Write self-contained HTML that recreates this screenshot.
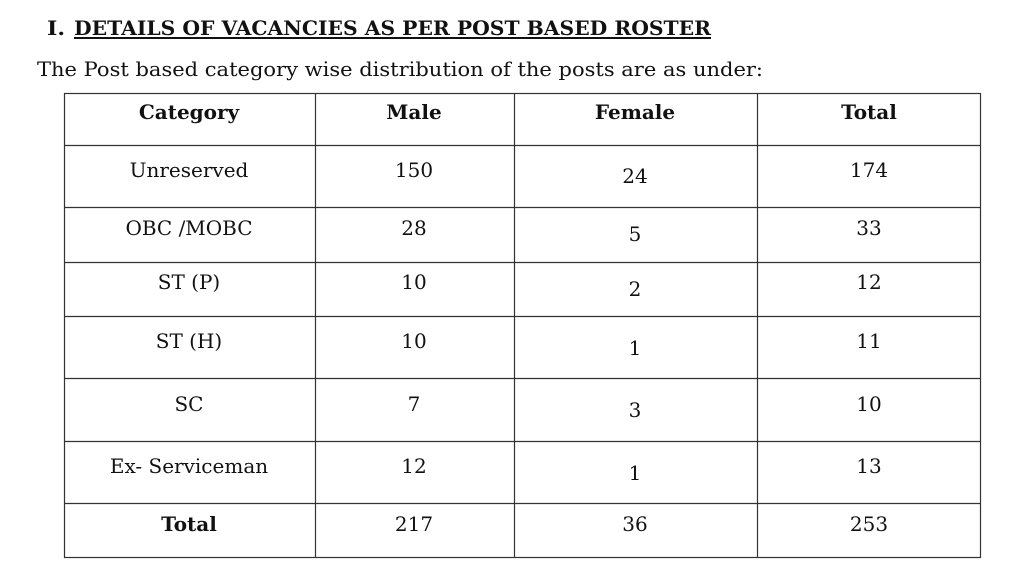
<!DOCTYPE html>
<html><head><style>body{margin:0;background:#fff}svg{display:block}</style></head>
<body>
<svg width="1024" height="587" xmlns="http://www.w3.org/2000/svg" font-family="DejaVu Serif, serif" fill="#111">
<text x="47" y="35" font-size="20" font-weight="bold" textLength="18" lengthAdjust="spacingAndGlyphs">I.</text>
<text x="74" y="35" font-size="20" font-weight="bold" textLength="637" lengthAdjust="spacingAndGlyphs">DETAILS OF VACANCIES AS PER POST BASED ROSTER</text>
<rect x="74" y="37" width="637" height="2" fill="#111"/>
<text x="37" y="76" font-size="20" textLength="726" lengthAdjust="spacingAndGlyphs">The Post based category wise distribution of the posts are as under:</text>
<g stroke="#333" stroke-width="1.2" fill="none">
<rect x="64.5" y="93.5" width="916" height="464"/>
<line x1="315.5" y1="93" x2="315.5" y2="558"/>
<line x1="514.5" y1="93" x2="514.5" y2="558"/>
<line x1="757.5" y1="93" x2="757.5" y2="558"/>
<line x1="64" y1="145.5" x2="981" y2="145.5"/>
<line x1="64" y1="207.5" x2="981" y2="207.5"/>
<line x1="64" y1="262.5" x2="981" y2="262.5"/>
<line x1="64" y1="316.5" x2="981" y2="316.5"/>
<line x1="64" y1="378.5" x2="981" y2="378.5"/>
<line x1="64" y1="441.5" x2="981" y2="441.5"/>
<line x1="64" y1="503.5" x2="981" y2="503.5"/>
</g>
<g font-size="20" text-anchor="middle">
<g font-weight="bold">
<text x="189" y="119">Category</text><text x="414" y="119">Male</text><text x="635" y="119">Female</text><text x="869" y="119">Total</text>
</g>
<text x="189" y="177">Unreserved</text><text x="414" y="177">150</text><text x="635" y="183">24</text><text x="869" y="177">174</text>
<text x="189" y="235">OBC /MOBC</text><text x="414" y="235">28</text><text x="635" y="241">5</text><text x="869" y="235">33</text>
<text x="189" y="289">ST (P)</text><text x="414" y="289">10</text><text x="635" y="296">2</text><text x="869" y="289">12</text>
<text x="189" y="348">ST (H)</text><text x="414" y="348">10</text><text x="635" y="355">1</text><text x="869" y="348">11</text>
<text x="189" y="411">SC</text><text x="414" y="411">7</text><text x="635" y="417">3</text><text x="869" y="411">10</text>
<text x="189" y="473">Ex- Serviceman</text><text x="414" y="473">12</text><text x="635" y="480">1</text><text x="869" y="473">13</text>
<text x="189" y="531" font-weight="bold">Total</text><text x="414" y="531">217</text><text x="635" y="531">36</text><text x="869" y="531">253</text>
</g>
</svg>
</body></html>
